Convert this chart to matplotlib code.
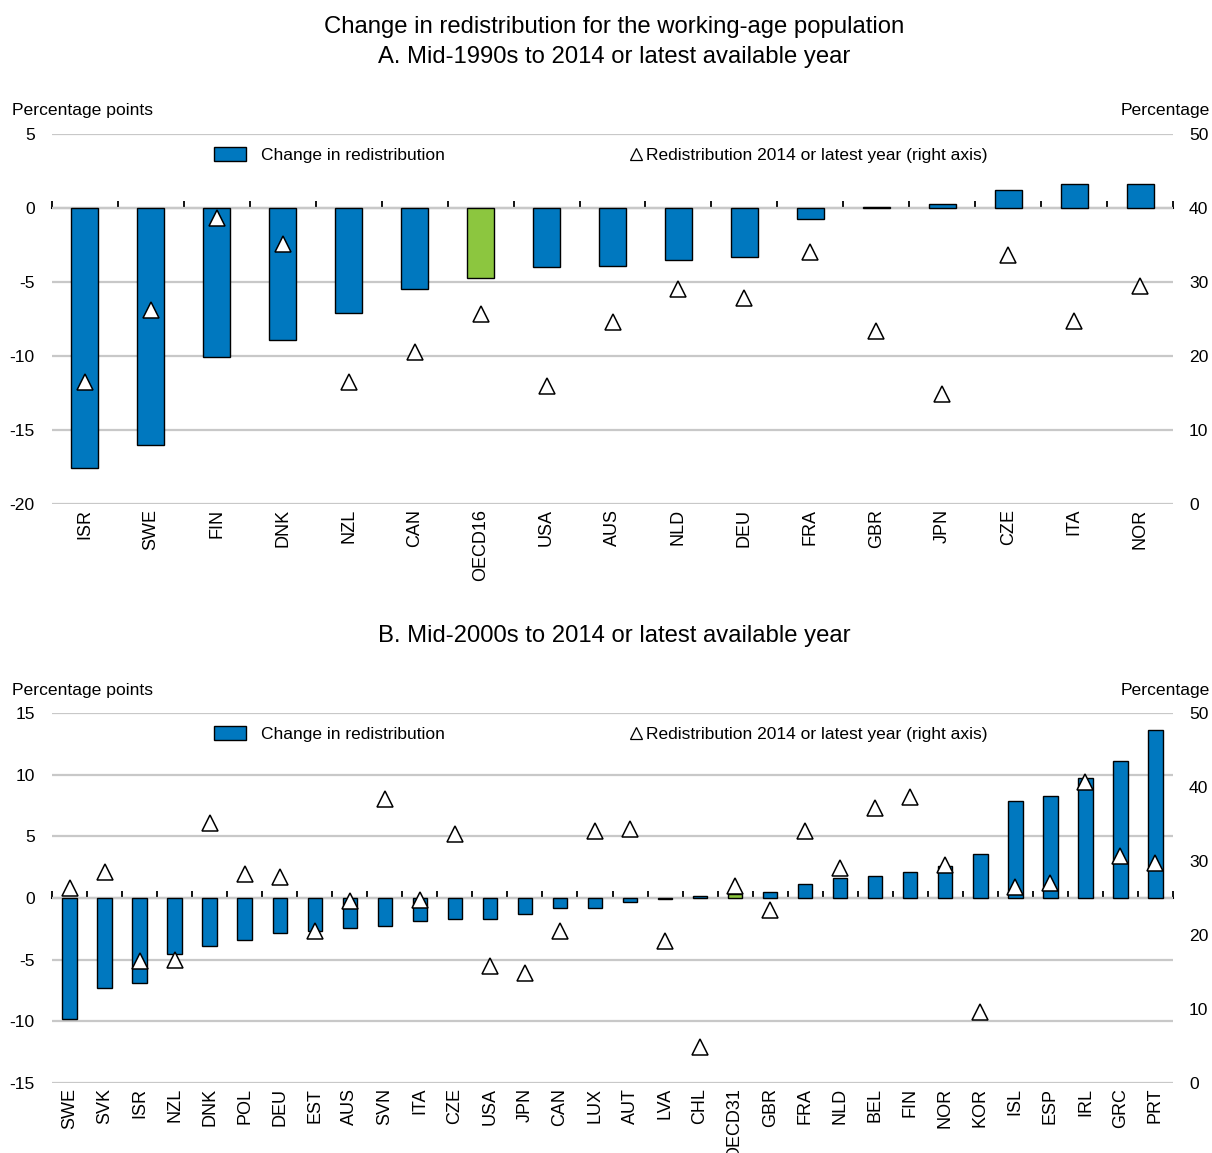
import numpy as np
import matplotlib
matplotlib.use("Agg")
import matplotlib.pyplot as plt
from matplotlib import font_manager
from matplotlib.patches import Patch
from matplotlib.lines import Line2D

# ---------------- data ----------------
cats_a = ["ISR", "SWE", "FIN", "DNK", "NZL", "CAN", "OECD16", "USA", "AUS",
          "NLD", "DEU", "FRA", "GBR", "JPN", "CZE", "ITA", "NOR"]
change_a = [-17.6, -16.0, -10.1, -8.9, -7.1, -5.5, -4.75, -4.0, -3.95,
            -3.5, -3.3, -0.75, 0.05, 0.3, 1.2, 1.6, 1.6]
level_a = [16.5, 26.2, 38.7, 35.1, 16.5, 20.6, 25.7, 15.9, 24.6,
           29.1, 27.8, 34.0, 23.4, 14.9, 33.7, 24.7, 29.4]

cats_b = ["SWE", "SVK", "ISR", "NZL", "DNK", "POL", "DEU", "EST", "AUS", "SVN",
          "ITA", "CZE", "USA", "JPN", "CAN", "LUX", "AUT", "LVA", "CHL", "OECD31",
          "GBR", "FRA", "NLD", "BEL", "FIN", "NOR", "KOR", "ISL", "ESP", "IRL",
          "GRC", "PRT"]
change_b = [-9.8, -7.3, -6.9, -4.5, -3.9, -3.4, -2.8, -2.7, -2.4, -2.3,
            -1.9, -1.7, -1.7, -1.3, -0.8, -0.8, -0.3, -0.05, 0.2, 0.3,
            0.45, 1.15, 1.6, 1.8, 2.1, 2.6, 3.6, 7.9, 8.3, 9.7,
            11.1, 13.6]
level_b = [26.3, 28.5, 16.5, 16.6, 35.2, 28.2, 27.8, 20.5, 24.6, 38.4,
           24.7, 33.6, 15.8, 14.9, 20.6, 34.1, 34.3, 19.2, 4.9, 26.6,
           23.4, 34.1, 29.1, 37.2, 38.7, 29.5, 9.6, 26.5, 27.0, 40.7,
           30.7, 29.7]

title_main = "Change in redistribution for the working-age population"
title_a = "A. Mid-1990s to 2014 or latest available year"
title_b = "B. Mid-2000s to 2014 or latest available year"
left_unit = "Percentage points"
right_unit = "Percentage"
leg_bar = "Change in redistribution"
leg_tri = "Redistribution 2014 or latest year (right axis)"

# ---------------- style ----------------
BLUE = "#0078BF"
GREEN = "#8CC63F"
GRID = "#C8C8C8"

names = {f.name for f in font_manager.fontManager.ttflist}
REG = ["Liberation Sans", "Arial", "DejaVu Sans"]
if "Liberation Sans Narrow" in names:
    NARROW = ["Liberation Sans Narrow", "Liberation Sans", "DejaVu Sans"]
    NS = 15.0
    LS = 15.0
    CS = 14.5
else:
    NARROW = REG
    NS = 12.6
    LS = 12.5
    CS = 13.0

plt.rcParams["font.family"] = REG

W, H = 1212, 1153
fig = plt.figure(figsize=(W / 100, H / 100), dpi=100)

ax_left_px, ax_right_px = 52, 1173


def make_panel(top_px, bottom_px, cats, change, level, ylim, yticks, title, title_y_px,
               bar_w, green_name):
    n = len(cats)
    ax = fig.add_axes([ax_left_px / W, 1 - bottom_px / H,
                       (ax_right_px - ax_left_px) / W, (bottom_px - top_px) / H])
    x = np.arange(n)
    colors = [GREEN if c == green_name else BLUE for c in cats]
    ax.bar(x, change, width=bar_w, color=colors, edgecolor="black", linewidth=1.0,
           zorder=3)
    ax.set_xlim(-0.5, n - 0.5)
    ax.set_ylim(*ylim)
    ax.set_yticks(yticks)
    ax.set_yticklabels([f"{t:g}" for t in yticks], family=NARROW, fontsize=NS)
    ax.grid(axis="y", color=GRID, linewidth=1.6, zorder=0)
    ax.set_axisbelow(True)
    for s in ax.spines.values():
        s.set_visible(False)
    ax.tick_params(axis="y", length=0, pad=12.5)
    ax.set_xticks(x)
    ax.set_xticklabels(cats, rotation=90, fontsize=CS, family=REG)
    ax.tick_params(axis="x", length=0, pad=3.5)

    # zero line with category boundary ticks
    frac = (0 - ylim[0]) / (ylim[1] - ylim[0])
    sec = ax.secondary_xaxis(frac)
    sec.set_alignment("top")
    sec.set_xticks(np.arange(n + 1) - 0.5)
    sec.tick_params(axis="x", direction="out", length=5, width=1.3,
                    labeltop=False, labelbottom=False, color="black")
    for s in sec.spines.values():
        s.set_linewidth(1.5)
        s.set_color("black")

    ax2 = ax.twinx()
    ax2.set_ylim(0, 50)
    ax2.set_yticks([0, 10, 20, 30, 40, 50])
    ax2.set_yticklabels(["0", "10", "20", "30", "40", "50"], family=NARROW, fontsize=NS)
    ax2.tick_params(axis="y", length=0, pad=11.5)
    for s in ax2.spines.values():
        s.set_visible(False)
    ax2.plot(x, level, linestyle="none", marker="^", markersize=11,
             markerfacecolor="white", markeredgecolor="black", markeredgewidth=1.1,
             zorder=5)

    # legends
    lg1 = ax2.legend(handles=[Patch(facecolor=BLUE, edgecolor="black", linewidth=1.0)],
                     labels=[leg_bar], loc="center left",
                     bbox_to_anchor=((214 - ax_left_px) / (ax_right_px - ax_left_px), 0.943),
                     frameon=False, borderpad=0, borderaxespad=0,
                     handlelength=1.85, handleheight=0.8, handletextpad=0.85,
                     prop={"family": NARROW, "size": LS})
    ax2.add_artist(lg1)
    ax2.legend(handles=[Line2D([], [], linestyle="none", marker="^", markersize=8,
                               markerfacecolor="white", markeredgecolor="black",
                               markeredgewidth=0.9)],
               labels=[leg_tri], loc="center left",
               bbox_to_anchor=((631 - ax_left_px) / (ax_right_px - ax_left_px), 0.943),
               frameon=False, borderpad=0, borderaxespad=0,
               handlelength=0.6, handletextpad=0.25,
               prop={"family": NARROW, "size": LS})

    fig.text(12 / W, 1 - (top_px - 23) / H, left_unit, ha="left", va="center",
             family=NARROW, fontsize=NS)
    fig.text(1210 / W, 1 - (top_px - 23) / H, right_unit, ha="right", va="center",
             family=NARROW, fontsize=NS)
    fig.text(614 / W, 1 - (title_y_px + 1) / H, title, ha="center", va="center",
             fontsize=17.2)
    return ax


fig.text(614 / W, 1 - 27 / H, title_main, ha="center", va="center", fontsize=17.2)

make_panel(134, 504, cats_a, change_a, level_a, (-20, 5), [-20, -15, -10, -5, 0, 5],
           title_a, 56, 0.41, "OECD16")
make_panel(713, 1083, cats_b, change_b, level_b, (-15, 15),
           [-15, -10, -5, 0, 5, 10, 15], title_b, 635, 0.41, "OECD31")

fig.savefig("out.png", dpi=100)
